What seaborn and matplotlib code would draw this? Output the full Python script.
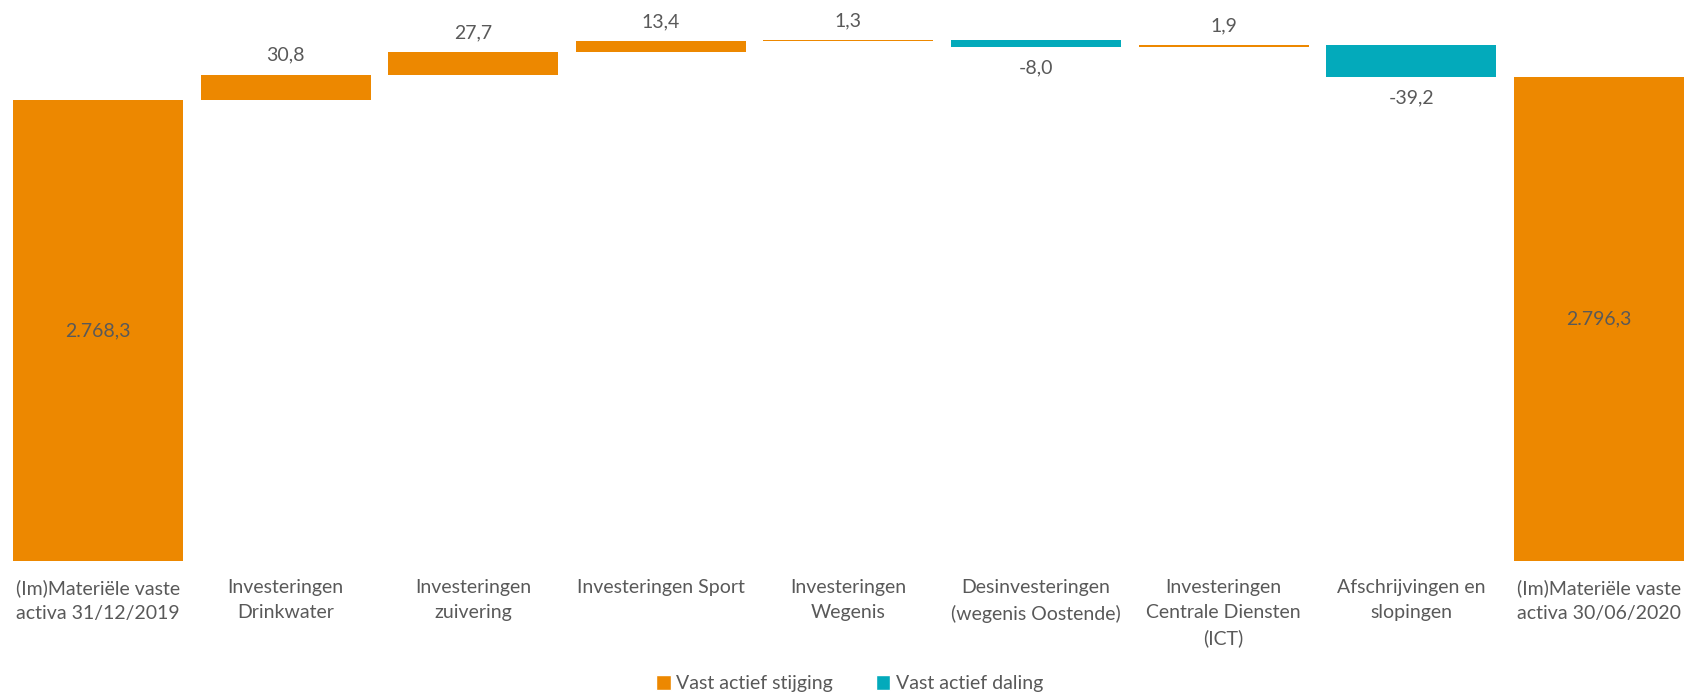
import pandas as pd
import matplotlib.pyplot as plt
import seaborn as sns
from matplotlib.patches import Patch

# data
categories = [
    "(Im)Materiële vaste\nactiva 31/12/2019",
    "Investeringen\nDrinkwater",
    "Investeringen\nzuivering",
    "Investeringen Sport",
    "Investeringen\nWegenis",
    "Desinvesteringen\n(wegenis Oostende)",
    "Investeringen\nCentrale Diensten\n(ICT)",
    "Afschrijvingen en\nslopingen",
    "(Im)Materiële vaste\nactiva 30/06/2020",
]
values = [2768.3, 30.8, 27.7, 13.4, 1.3, -8.0, 1.9, -39.2, 2796.3]
is_total = [True, False, False, False, False, False, False, False, True]
axis_min = 2200
legend_labels = ["Vast actief stijging", "Vast actief daling"]

ORANGE = "#ED8800"
TEAL = "#03AABB"
GREY = "#595959"
FS = 14


def fmt(v):
    s = f"{v:,.1f}"
    return s.replace(",", "X").replace(".", ",").replace("X", ".")


# build waterfall segments
lows, highs = [], []
running = 0.0
for v, tot in zip(values, is_total):
    if tot:
        lows.append(axis_min)
        highs.append(v)
        running = v
    else:
        lo, hi = sorted([running, running + v])
        lows.append(lo)
        highs.append(hi)
        running += v

df = pd.DataFrame({
    "cat": categories,
    "value": values,
    "low": lows,
    "size": [h - l for h, l in zip(highs, lows)],
    "total": is_total,
})

sns.set_theme(style="white")
plt.rcParams["font.family"] = ["Lato", "DejaVu Sans"]

fig = plt.figure(figsize=(16.86, 6.97), dpi=100)
ax = fig.add_axes([0.0, 0.1947, 1.0, 0.7766])

sns.barplot(data=df, x="cat", y="size", order=categories, bottom=df["low"].values,
            color=ORANGE, width=0.906, linewidth=0, ax=ax)

for patch, v, tot in zip(ax.patches, values, is_total):
    patch.set_facecolor(ORANGE if (tot or v >= 0) else TEAL)

# data labels
for i, row in df.iterrows():
    top = row["low"] + row["size"]
    if row["total"]:
        ax.text(i, (row["low"] + top) / 2, fmt(row["value"]), ha="center", va="center",
                fontsize=FS, color=GREY)
    elif row["value"] >= 0:
        ax.annotate(fmt(row["value"]), (i, top), xytext=(0, 14), textcoords="offset points",
                    ha="center", va="center", fontsize=FS, color=GREY)
    else:
        ax.annotate(fmt(row["value"]), (i, row["low"]), xytext=(0, -15), textcoords="offset points",
                    ha="center", va="center", fontsize=FS, color=GREY)

ax.set_xlim(-0.522, 8.465)
ax.set_ylim(axis_min, 2866.6)
ax.set_yticks([])
ax.set_xlabel("")
ax.set_ylabel("")
ax.tick_params(axis="x", length=0, pad=13, labelsize=FS, labelcolor=GREY)
for lbl in ax.get_xticklabels():
    lbl.set_linespacing(1.55)
sns.despine(ax=ax, left=True, bottom=True)

handles = [Patch(facecolor=ORANGE, label=legend_labels[0]),
           Patch(facecolor=TEAL, label=legend_labels[1])]
fig.legend(handles=handles, loc="center", bbox_to_anchor=(0.504, 0.019), ncol=2,
           frameon=False, fontsize=FS, labelcolor=GREY, handlelength=0.75, handleheight=0.75,
           handletextpad=0.3, columnspacing=2.2)

plt.savefig("out.png", dpi=100)
